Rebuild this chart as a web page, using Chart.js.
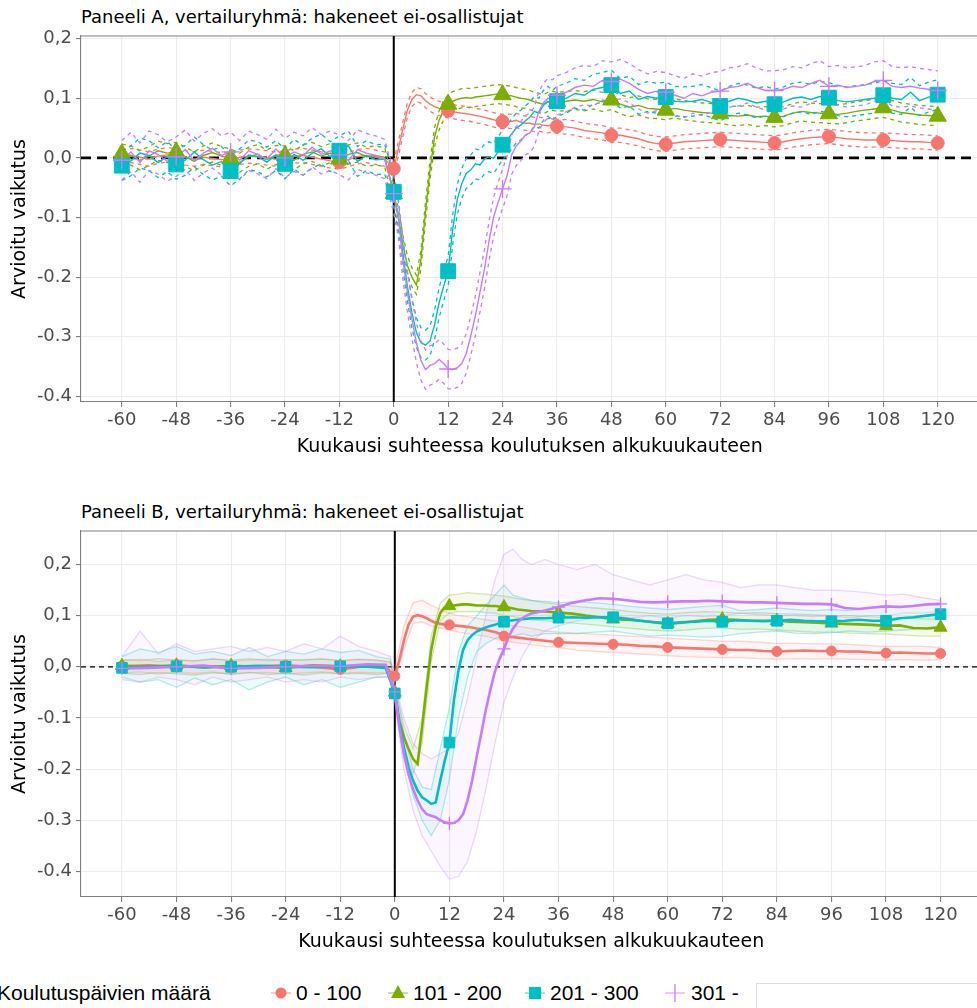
<!DOCTYPE html>
<html>
<head>
<meta charset="utf-8">
<script src="https://cdn.jsdelivr.net/npm/chart.js@4.4.0/dist/chart.umd.min.js"></script>
<style>
  html, body { margin: 0; padding: 0; background: #fff; overflow: hidden; }
  #wrap { position: relative; width: 977px; height: 1008px; overflow: hidden; }
  #wrap canvas { position: absolute; left: 0; }
  #chartA { top: 0; }
  #chartB { top: 495px; }
  .ptitle { position: absolute; left: 81px; font: 18px "DejaVu Sans"; line-height: 18px; color: #000; white-space: nowrap; }
  .leg { position: absolute; font: 21px "Liberation Sans Narrow", "Liberation Sans"; line-height: 22px; color: #000; white-space: nowrap; }
  #box { position: absolute; left: 756px; top: 983px; width: 260px; height: 60px; border: 1px solid #dcdcdc; background: #fff; }
</style>
</head>
<body>
<div id="wrap">
  <div class="ptitle" style="top:8px">Paneeli A, vertailuryhmä: hakeneet ei-osallistujat</div>
  <canvas id="chartA" width="990" height="470"></canvas>
  <div class="ptitle" style="top:503px">Paneeli B, vertailuryhmä: hakeneet ei-osallistujat</div>
  <canvas id="chartB" width="990" height="470"></canvas>
  <div id="legend"></div>
  <div id="box"></div>
</div>
<script>
// --- series & axes ---
const SERIES = ['0 - 100', '101 - 200', '201 - 300', '301 -'];
const COLORS = ['#F8766D', '#7CAE00', '#00BFC4', '#C77CFF'];
const MARKERS = ['circle', 'triangle', 'rect', 'cross'];
const LEGEND_TITLE = 'Koulutuspäivien määrä';

const xTicks = [-60, -48, -36, -24, -12, 0, 12, 24, 36, 48, 60, 72, 84, 96, 108, 120];
const yTicks = [-0.4, -0.3, -0.2, -0.1, 0, 0.1, 0.2];
const yTickLabels = ['-0.4', '-0.3', '-0.2', '-0.1', '0,0', '0,1', '0,2'];

// --- Panel A: point estimates (monthly around the start, every 2 months elsewhere) ---
const monthsA = [
  -60, -58, -56, -54, -52, -50, -48, -46, -44, -42, -40, -38, -36, -34, -32, -30, -28, -26, -24, -22, -20, -18, -16, -14, -12, -10, -8, -6, -4, -2,
  0, 1, 2, 3, 4, 5, 6, 7, 8, 9, 10, 11, 12, 13, 14, 15, 16, 17, 18, 19, 20, 21, 22, 23, 24, 25, 26, 27, 28, 29, 30, 31, 32, 33, 34, 35, 36,
  38, 40, 42, 44, 46, 48, 50, 52, 54, 56, 58, 60, 62, 64, 66, 68, 70, 72, 74, 76, 78, 80, 82, 84, 86, 88, 90, 92, 94, 96, 98, 100, 102, 104, 106, 108, 110, 112, 114, 116, 118, 120
];
const redA = [
  0.002, 0.004, 0.001, -0.002, 0.003, 0.005, 0.004, 0.000, -0.002, 0.001, -0.001, -0.003, -0.003, 0.001, 0.003, 0.002, 0.000, -0.002, 0.000, 0.003, 0.004, 0.001, -0.002, -0.005, -0.007, -0.003, 0.002, 0.004, 0.001, -0.002,
  -0.018, 0.015, 0.048, 0.080, 0.098, 0.106, 0.104, 0.096, 0.090, 0.086, 0.083, 0.081, 0.079, 0.078, 0.076, 0.075, 0.074, 0.073, 0.071, 0.070, 0.068, 0.066, 0.064, 0.062, 0.061, 0.062, 0.061, 0.063, 0.060, 0.058, 0.058, 0.056, 0.057, 0.055, 0.054, 0.055, 0.053,
  0.052, 0.050, 0.046, 0.044, 0.042, 0.038, 0.038, 0.035, 0.032, 0.027, 0.024, 0.023, 0.025, 0.027, 0.028, 0.029, 0.030, 0.031, 0.030, 0.029, 0.028, 0.027, 0.026, 0.025, 0.027, 0.030, 0.032, 0.034, 0.035, 0.036, 0.034, 0.032, 0.031, 0.030, 0.030, 0.030, 0.029, 0.028, 0.027, 0.027, 0.026, 0.025
];
const greenA = [
  0.007, 0.004, -0.004, 0.003, 0.012, 0.008, 0.010, 0.002, -0.006, 0.004, 0.009, 0.003, -0.001, -0.008, 0.002, 0.006, -0.003, 0.005, 0.004, -0.004, 0.006, 0.010, 0.003, 0.008, -0.002, 0.006, 0.009, 0.002, 0.004, 0.001,
  -0.060, -0.100, -0.145, -0.180, -0.200, -0.213, -0.170, -0.090, -0.020, 0.035, 0.063, 0.080, 0.090, 0.095, 0.098, 0.100, 0.101, 0.100, 0.102, 0.103, 0.104, 0.105, 0.106, 0.107, 0.106, 0.105, 0.104, 0.102, 0.100, 0.099, 0.097, 0.094, 0.092, 0.090, 0.094, 0.096, 0.094,
  0.095, 0.097, 0.095, 0.098, 0.094, 0.097, 0.090, 0.085, 0.088, 0.083, 0.082, 0.080, 0.083, 0.080, 0.078, 0.076, 0.075, 0.074, 0.071, 0.070, 0.072, 0.069, 0.070, 0.068, 0.070, 0.075, 0.078, 0.076, 0.075, 0.074, 0.073, 0.075, 0.078, 0.080, 0.082, 0.084, 0.080, 0.076, 0.074, 0.072, 0.071, 0.070
];
const cyanA = [
  -0.013, -0.005, 0.008, 0.004, -0.008, 0.002, -0.011, -0.004, 0.010, -0.003, -0.012, -0.006, -0.022, -0.010, 0.005, 0.002, -0.007, 0.004, -0.010, 0.006, -0.004, 0.008, 0.015, 0.002, 0.012, 0.020, -0.006, 0.004, -0.003, -0.002,
  -0.057, -0.098, -0.160, -0.215, -0.260, -0.293, -0.310, -0.314, -0.307, -0.280, -0.243, -0.215, -0.190, -0.120, -0.070, -0.043, -0.026, -0.020, -0.010, -0.012, -0.002, 0.002, -0.001, 0.010, 0.022, 0.030, 0.040, 0.050, 0.055, 0.062, 0.068, 0.078, 0.075, 0.088, 0.095, 0.088, 0.095,
  0.100, 0.108, 0.105, 0.115, 0.118, 0.122, 0.108, 0.112, 0.098, 0.103, 0.100, 0.102, 0.095, 0.094, 0.095, 0.098, 0.093, 0.087, 0.095, 0.100, 0.097, 0.092, 0.095, 0.090, 0.094, 0.100, 0.102, 0.098, 0.103, 0.101, 0.096, 0.094, 0.096, 0.098, 0.100, 0.105, 0.100, 0.098, 0.110, 0.096, 0.102, 0.106
];
const purpleA = [
  -0.004, 0.010, -0.008, 0.012, 0.006, -0.006, 0.002, 0.014, -0.005, 0.008, 0.016, 0.004, 0.010, -0.004, 0.012, 0.006, -0.002, 0.015, 0.000, 0.010, 0.004, 0.018, 0.006, 0.012, 0.005, -0.004, 0.014, 0.008, 0.004, -0.002,
  -0.060, -0.100, -0.170, -0.225, -0.270, -0.310, -0.340, -0.355, -0.348, -0.345, -0.338, -0.345, -0.354, -0.355, -0.352, -0.345, -0.328, -0.298, -0.265, -0.226, -0.187, -0.140, -0.100, -0.075, -0.052, -0.030, 0.005, 0.020, 0.028, 0.038, 0.042, 0.052, 0.078, 0.092, 0.100, 0.098, 0.105,
  0.110, 0.118, 0.122, 0.120, 0.130, 0.128, 0.132, 0.125, 0.115, 0.108, 0.112, 0.110, 0.105, 0.100, 0.108, 0.104, 0.110, 0.112, 0.118, 0.120, 0.125, 0.118, 0.113, 0.113, 0.115, 0.120, 0.118, 0.125, 0.130, 0.120, 0.122, 0.118, 0.120, 0.122, 0.128, 0.130, 0.120, 0.118, 0.120, 0.117, 0.115, 0.113
];
// half-width of the 95 % interval (dashed lines)
const ciHalfA = [0.012, 0.016, 0.025, 0.033];

// --- Panel B: pooled estimates ---
const monthsB = [
  -60, -54, -48, -42, -36, -30, -24, -18, -12, -6, -2,
  0, 1, 2, 3, 4, 5, 6, 7, 8, 9, 10, 11, 12, 13, 14, 15, 16, 17, 18, 19, 20, 21, 22, 23, 24, 25, 26, 27, 28, 29, 30,
  33, 36, 39, 42, 45, 48, 51, 54, 57, 60, 63, 66, 69, 72, 75, 78, 81, 84, 87, 90, 93, 96, 99, 102, 105, 108, 111, 114, 117, 120
];
const redB = [
  0.001, 0.003, 0.000, 0.002, -0.002, 0.001, 0.003, 0.000, -0.005, 0.002, 0.000,
  -0.018, 0.013, 0.052, 0.082, 0.098, 0.101, 0.099, 0.095, 0.090, 0.086, 0.084, 0.083, 0.082, 0.081, 0.080, 0.079, 0.078, 0.077, 0.075, 0.074, 0.072, 0.070, 0.068, 0.065, 0.060, 0.059, 0.058, 0.057, 0.056, 0.055, 0.054,
  0.051, 0.048, 0.047, 0.046, 0.045, 0.044, 0.043, 0.041, 0.040, 0.038, 0.037, 0.036, 0.035, 0.034, 0.033, 0.033, 0.031, 0.030, 0.031, 0.032, 0.031, 0.031, 0.030, 0.030, 0.028, 0.027, 0.028, 0.027, 0.026, 0.026
];
const greenB = [
  0.002, 0.000, 0.003, -0.001, 0.002, 0.000, -0.002, 0.003, 0.001, 0.002, 0.000,
  -0.050, -0.105, -0.137, -0.160, -0.180, -0.190, -0.118, -0.040, 0.033, 0.078, 0.105, 0.117, 0.119, 0.120, 0.121, 0.122, 0.122, 0.121, 0.120, 0.120, 0.120, 0.119, 0.119, 0.118, 0.117, 0.116, 0.114, 0.112, 0.111, 0.110, 0.109,
  0.108, 0.106, 0.104, 0.100, 0.097, 0.093, 0.092, 0.090, 0.087, 0.084, 0.086, 0.089, 0.092, 0.093, 0.092, 0.090, 0.090, 0.090, 0.088, 0.087, 0.086, 0.085, 0.084, 0.083, 0.082, 0.080, 0.081, 0.076, 0.075, 0.077
];
const cyanB = [
  -0.002, 0.000, 0.001, -0.001, 0.000, 0.002, 0.000, -0.001, 0.001, 0.000, -0.002,
  -0.052, -0.110, -0.157, -0.196, -0.222, -0.242, -0.255, -0.261, -0.268, -0.265, -0.222, -0.183, -0.148, -0.065, -0.007, 0.033, 0.052, 0.062, 0.069, 0.073, 0.077, 0.080, 0.082, 0.085, 0.088, 0.090, 0.091, 0.092, 0.093, 0.094, 0.095,
  0.095, 0.096, 0.097, 0.096, 0.097, 0.097, 0.094, 0.090, 0.087, 0.085, 0.087, 0.088, 0.090, 0.088, 0.091, 0.090, 0.089, 0.090, 0.092, 0.090, 0.089, 0.089, 0.090, 0.092, 0.090, 0.090, 0.095, 0.097, 0.100, 0.103
];
const purpleB = [
  -0.003, -0.002, 0.000, 0.002, -0.003, -0.002, 0.000, 0.002, 0.001, 0.005, 0.004,
  -0.049, -0.118, -0.170, -0.209, -0.239, -0.261, -0.278, -0.288, -0.291, -0.294, -0.300, -0.304, -0.306, -0.305, -0.300, -0.288, -0.261, -0.222, -0.176, -0.131, -0.085, -0.045, -0.010, 0.015, 0.035, 0.058, 0.075, 0.087, 0.095, 0.100, 0.104,
  0.110, 0.117, 0.125, 0.130, 0.134, 0.133, 0.130, 0.127, 0.126, 0.127, 0.128, 0.128, 0.129, 0.128, 0.127, 0.126, 0.126, 0.125, 0.124, 0.123, 0.123, 0.122, 0.115, 0.113, 0.116, 0.118, 0.117, 0.119, 0.122, 0.123
];

// --- Panel B: spread of the individual (faint) estimates, low / high ---
const hazeMonths = [
  -60, -56, -52, -48, -44, -40, -36, -32, -28, -24, -20, -16, -12, -8, -4, -1,
  0, 2, 4, 6, 8, 10, 12, 14, 16, 18, 20, 22, 24, 26, 28, 30, 33, 36,
  40, 44, 48, 52, 56, 60, 64, 68, 72, 76, 80, 84, 88, 92, 96, 100, 104, 108, 112, 116, 120
];
const redHazeLo = [
  -0.012, -0.010, -0.014, -0.011, -0.013, -0.010, -0.015, -0.012, -0.011, -0.014, -0.012, -0.010, -0.013, -0.011, -0.012, -0.012,
  -0.030, 0.035, 0.085, 0.088, 0.080, 0.075, 0.072, 0.068, 0.065, 0.062, 0.060, 0.055, 0.050, 0.048, 0.046, 0.044, 0.040, 0.038,
  0.032, 0.030, 0.028, 0.026, 0.024, 0.022, 0.020, 0.019, 0.018, 0.018, 0.016, 0.015, 0.016, 0.015, 0.016, 0.015, 0.014, 0.013, 0.014, 0.013, 0.014
];
const redHazeHi = [
  0.012, 0.015, 0.010, 0.014, 0.012, 0.016, 0.011, 0.013, 0.015, 0.012, 0.014, 0.016, 0.012, 0.015, 0.013, 0.008,
  -0.005, 0.080, 0.125, 0.130, 0.120, 0.112, 0.105, 0.100, 0.098, 0.095, 0.092, 0.090, 0.085, 0.080, 0.078, 0.075, 0.070, 0.068,
  0.066, 0.064, 0.062, 0.060, 0.058, 0.056, 0.054, 0.052, 0.050, 0.050, 0.048, 0.046, 0.046, 0.045, 0.045, 0.044, 0.042, 0.040, 0.040, 0.040, 0.038
];
const greenHazeLo = [
  -0.013, -0.015, -0.011, -0.014, -0.016, -0.012, -0.014, -0.011, -0.015, -0.013, -0.016, -0.012, -0.014, -0.013, -0.015, -0.012,
  -0.065, -0.160, -0.210, -0.150, 0.010, 0.090, 0.105, 0.108, 0.108, 0.108, 0.106, 0.105, 0.100, 0.098, 0.095, 0.092, 0.090, 0.088,
  0.085, 0.082, 0.078, 0.075, 0.072, 0.070, 0.072, 0.075, 0.076, 0.073, 0.074, 0.072, 0.070, 0.068, 0.068, 0.066, 0.065, 0.064, 0.062, 0.060, 0.060
];
const greenHazeHi = [
  0.014, 0.012, 0.016, 0.013, 0.011, 0.015, 0.013, 0.016, 0.012, 0.014, 0.013, 0.015, 0.012, 0.014, 0.013, 0.010,
  -0.035, -0.115, -0.160, -0.100, 0.060, 0.125, 0.140, 0.142, 0.145, 0.143, 0.142, 0.140, 0.138, 0.135, 0.132, 0.130, 0.125, 0.122,
  0.118, 0.115, 0.112, 0.108, 0.105, 0.103, 0.106, 0.108, 0.107, 0.105, 0.106, 0.104, 0.103, 0.102, 0.100, 0.100, 0.098, 0.096, 0.095, 0.094, 0.092
];
const cyanHazeLo = [
  -0.020, -0.030, -0.025, -0.040, -0.022, -0.035, -0.025, -0.045, -0.030, -0.020, -0.035, -0.025, -0.040, -0.030, -0.020, -0.020,
  -0.070, -0.180, -0.250, -0.300, -0.330, -0.300, -0.220, -0.100, -0.020, 0.030, 0.045, 0.055, 0.060, 0.060, 0.065, 0.060, 0.065, 0.065,
  0.065, 0.068, 0.070, 0.065, 0.060, 0.062, 0.060, 0.058, 0.060, 0.065, 0.068, 0.070, 0.066, 0.065, 0.067, 0.070, 0.068, 0.070, 0.072, 0.075, 0.080
];
const cyanHazeHi = [
  0.020, 0.035, 0.028, 0.040, 0.025, 0.030, 0.022, 0.038, 0.020, 0.030, 0.025, 0.035, 0.028, 0.032, 0.020, 0.015,
  -0.030, -0.130, -0.200, -0.235, -0.240, -0.160, -0.080, 0.030, 0.080, 0.100, 0.120, 0.140, 0.160, 0.140, 0.135, 0.130, 0.128, 0.125,
  0.128, 0.125, 0.122, 0.118, 0.115, 0.112, 0.115, 0.118, 0.120, 0.110, 0.112, 0.115, 0.112, 0.110, 0.112, 0.110, 0.115, 0.120, 0.118, 0.120, 0.122
];
const purpleHazeLo = [
  -0.025, -0.030, -0.020, -0.025, -0.035, -0.020, -0.030, -0.025, -0.020, -0.030, -0.025, -0.030, -0.020, -0.025, -0.020, -0.020,
  -0.070, -0.200, -0.280, -0.330, -0.360, -0.390, -0.415, -0.410, -0.380, -0.320, -0.240, -0.150, -0.070, -0.020, 0.020, 0.050, 0.070, 0.080,
  0.090, 0.095, 0.100, 0.095, 0.100, 0.095, 0.100, 0.098, 0.100, 0.105, 0.102, 0.100, 0.100, 0.098, 0.100, 0.095, 0.100, 0.100, 0.105, 0.105, 0.108
];
const purpleHazeHi = [
  0.020, 0.070, 0.025, 0.045, 0.030, 0.035, 0.040, 0.030, 0.038, 0.030, 0.045, 0.035, 0.060, 0.040, 0.030, 0.020,
  -0.030, -0.100, -0.150, -0.170, -0.180, -0.170, -0.160, -0.130, -0.060, 0.020, 0.100, 0.170, 0.220, 0.230, 0.210, 0.200, 0.210, 0.200,
  0.190, 0.200, 0.180, 0.170, 0.160, 0.170, 0.180, 0.170, 0.165, 0.155, 0.160, 0.160, 0.155, 0.150, 0.150, 0.148, 0.145, 0.140, 0.142, 0.135, 0.130
];

// --- helpers ---
const FONT = 'DejaVu Sans';
const pts = (xs, ys) => xs.map((x, i) => ({ x, y: ys[i] }));

function rgba(hex, a) {
  const n = parseInt(hex.slice(1), 16);
  return `rgba(${(n >> 16) & 255},${(n >> 8) & 255},${n & 255},${a})`;
}

function lineSet(data, color, width, dash, order, extra = {}) {
  return Object.assign({
    data, borderColor: color, borderWidth: width, borderDash: dash,
    pointRadius: 0, pointHoverRadius: 0, fill: false, tension: 0, order
  }, extra);
}

function markerSet(data, i, radii, order) {
  return {
    data, showLine: false, order,
    pointStyle: MARKERS[i],
    pointRadius: ctx => (ctx.raw && ctx.raw.x % 12 === 0) ? radii[i] : 0,
    pointHoverRadius: 0,
    pointBackgroundColor: COLORS[i],
    pointBorderColor: COLORS[i],
    pointBorderWidth: i === 3 ? 1.4 : 1
  };
}

// reference lines: vertical line at month 0, dashed zero line, panel top border
const refLines = {
  id: 'refLines',
  beforeDatasetsDraw(chart, args, opts) {
    const { ctx, chartArea: a, scales: { x, y } } = chart;
    ctx.save();
    ctx.strokeStyle = '#7f7f7f';
    ctx.lineWidth = 1.1;
    ctx.beginPath(); ctx.moveTo(a.left, a.top); ctx.lineTo(a.right, a.top); ctx.stroke();
    const y0 = y.getPixelForValue(0);
    ctx.strokeStyle = '#000';
    ctx.lineWidth = opts.zeroWidth;
    ctx.setLineDash(opts.zeroDash);
    ctx.beginPath(); ctx.moveTo(a.left, y0); ctx.lineTo(a.right, y0); ctx.stroke();
    ctx.setLineDash([]);
    const x0 = x.getPixelForValue(0);
    ctx.lineWidth = 2;
    ctx.beginPath(); ctx.moveTo(x0, a.top); ctx.lineTo(x0, a.bottom); ctx.stroke();
    ctx.restore();
  }
};

function panelOptions(yMin, yMax, zeroWidth, zeroDash) {
  const tickFont = { family: FONT, size: 18 };
  const titleFont = { family: FONT, size: 19 };
  return {
    responsive: false,
    animation: false,
    events: [],
    layout: { padding: { top: 36, left: 0, right: 3, bottom: 0 } },
    plugins: {
      legend: { display: false },
      tooltip: { enabled: false },
      refLines: { zeroWidth, zeroDash }
    },
    scales: {
      x: {
        type: 'linear', min: -69, max: 129,
        afterBuildTicks: s => { s.ticks = xTicks.map(v => ({ value: v })); },
        afterFit: s => { s.height = 68; },
        ticks: { color: '#4d4d4d', font: tickFont, padding: 3, maxRotation: 0, autoSkip: false },
        grid: { color: '#ebebeb', lineWidth: 1.1, tickColor: '#7f7f7f', tickLength: 5 },
        border: { color: '#7f7f7f', width: 1.1 },
        title: { display: true, text: 'Kuukausi suhteessa koulutuksen alkukuukauteen', color: '#000', font: titleFont, padding: { top: 0, bottom: 12 } }
      },
      y: {
        min: yMin, max: yMax,
        afterBuildTicks: s => { s.ticks = yTicks.map(v => ({ value: v })); },
        afterFit: s => { s.width = 81; },
        ticks: { color: '#4d4d4d', font: tickFont, padding: 4, callback: v => yTickLabels[yTicks.indexOf(v)] },
        grid: { color: '#ebebeb', lineWidth: 1.1, tickColor: '#7f7f7f', tickLength: 5 },
        border: { color: '#7f7f7f', width: 1.1 },
        title: { display: true, text: 'Arvioitu vaikutus', color: '#000', font: titleFont, padding: { top: 9, bottom: 0 } }
      }
    }
  };
}

// --- Panel A ---
function buildPanelA() {
  const sets = [];
  [redA, greenA, cyanA, purpleA].forEach((vals, i) => {
    const c = COLORS[i];
    const h = ciHalfA[i];
    sets.push(lineSet(pts(monthsA, vals.map(v => v + h)), c, 1.3, [4, 4], 60 - i * 2));
    sets.push(lineSet(pts(monthsA, vals.map(v => v - h)), c, 1.3, [4, 4], 60 - i * 2));
    sets.push(lineSet(pts(monthsA, vals), c, 1.4, [], 59 - i * 2));
    sets.push(markerSet(pts(monthsA, vals), i, [6.5, 10, 10.5, 9], 10 - i));
  });
  new Chart(document.getElementById('chartA'), {
    type: 'line',
    data: { datasets: sets },
    options: panelOptions(-0.4094, 0.2044, 2.6, [10, 6]),
    plugins: [refLines]
  });
}

// --- Panel B ---
function buildPanelB() {
  const sets = [];
  const hazes = [[redHazeLo, redHazeHi], [greenHazeLo, greenHazeHi], [cyanHazeLo, cyanHazeHi], [purpleHazeLo, purpleHazeHi]];
  hazes.forEach(([lo, hi], i) => {
    const c = COLORS[i];
    sets.push(lineSet(pts(hazeMonths, lo), rgba(c, 0.3), 1.3, [], 100 - i));
    sets.push(lineSet(pts(hazeMonths, hi), rgba(c, 0.3), 1.3, [], 100 - i, { fill: '-1', backgroundColor: rgba(c, 0.07) }));
  });
  [redB, greenB, cyanB, purpleB].forEach((vals, i) => {
    sets.push(lineSet(pts(monthsB, vals), COLORS[i], 2.6, [], 50 - i));
    sets.push(markerSet(pts(monthsB, vals), i, [5, 7.5, 7.5, 6.5], 10 - i));
  });
  new Chart(document.getElementById('chartB'), {
    type: 'line',
    data: { datasets: sets },
    options: panelOptions(-0.45, 0.2655, 1.2, [5, 4]),
    plugins: [refLines]
  });
}

// --- shared legend (HTML) ---
function buildLegend() {
  const wrap = document.getElementById('wrap');
  const keyX = [281, 398, 535, 675];
  const labelX = [296, 413, 550, 691];
  const cy = 993;
  const title = document.createElement('div');
  title.className = 'leg';
  title.style.left = '-3px';
  title.style.top = (cy - 11) + 'px';
  title.textContent = LEGEND_TITLE;
  wrap.appendChild(title);
  SERIES.forEach((name, i) => {
    const c = COLORS[i];
    let shape = '';
    if (MARKERS[i] === 'circle') shape = `<circle cx="11" cy="11" r="5.5" fill="${c}"/>`;
    if (MARKERS[i] === 'triangle') shape = `<polygon points="11,3 18,16 4,16" fill="${c}"/>`;
    if (MARKERS[i] === 'rect') shape = `<rect x="5" y="5" width="12" height="12" fill="${c}"/>`;
    if (MARKERS[i] === 'cross') shape = `<line x1="11" y1="2" x2="11" y2="20" stroke="${c}" stroke-width="1.3"/>`;
    const svg = document.createElement('div');
    svg.style.cssText = `position:absolute;left:${keyX[i] - 11}px;top:${cy - 11}px;width:22px;height:22px;`;
    svg.innerHTML = `<svg width="22" height="22"><line x1="1" y1="11" x2="21" y2="11" stroke="${rgba(c, 0.6)}" stroke-width="1.3"/>${shape}</svg>`;
    wrap.appendChild(svg);
    const lab = document.createElement('div');
    lab.className = 'leg';
    lab.style.left = labelX[i] + 'px';
    lab.style.top = (cy - 11) + 'px';
    lab.textContent = name;
    wrap.appendChild(lab);
  });
}

buildPanelA();
buildPanelB();
buildLegend();
</script>
</body>
</html>
